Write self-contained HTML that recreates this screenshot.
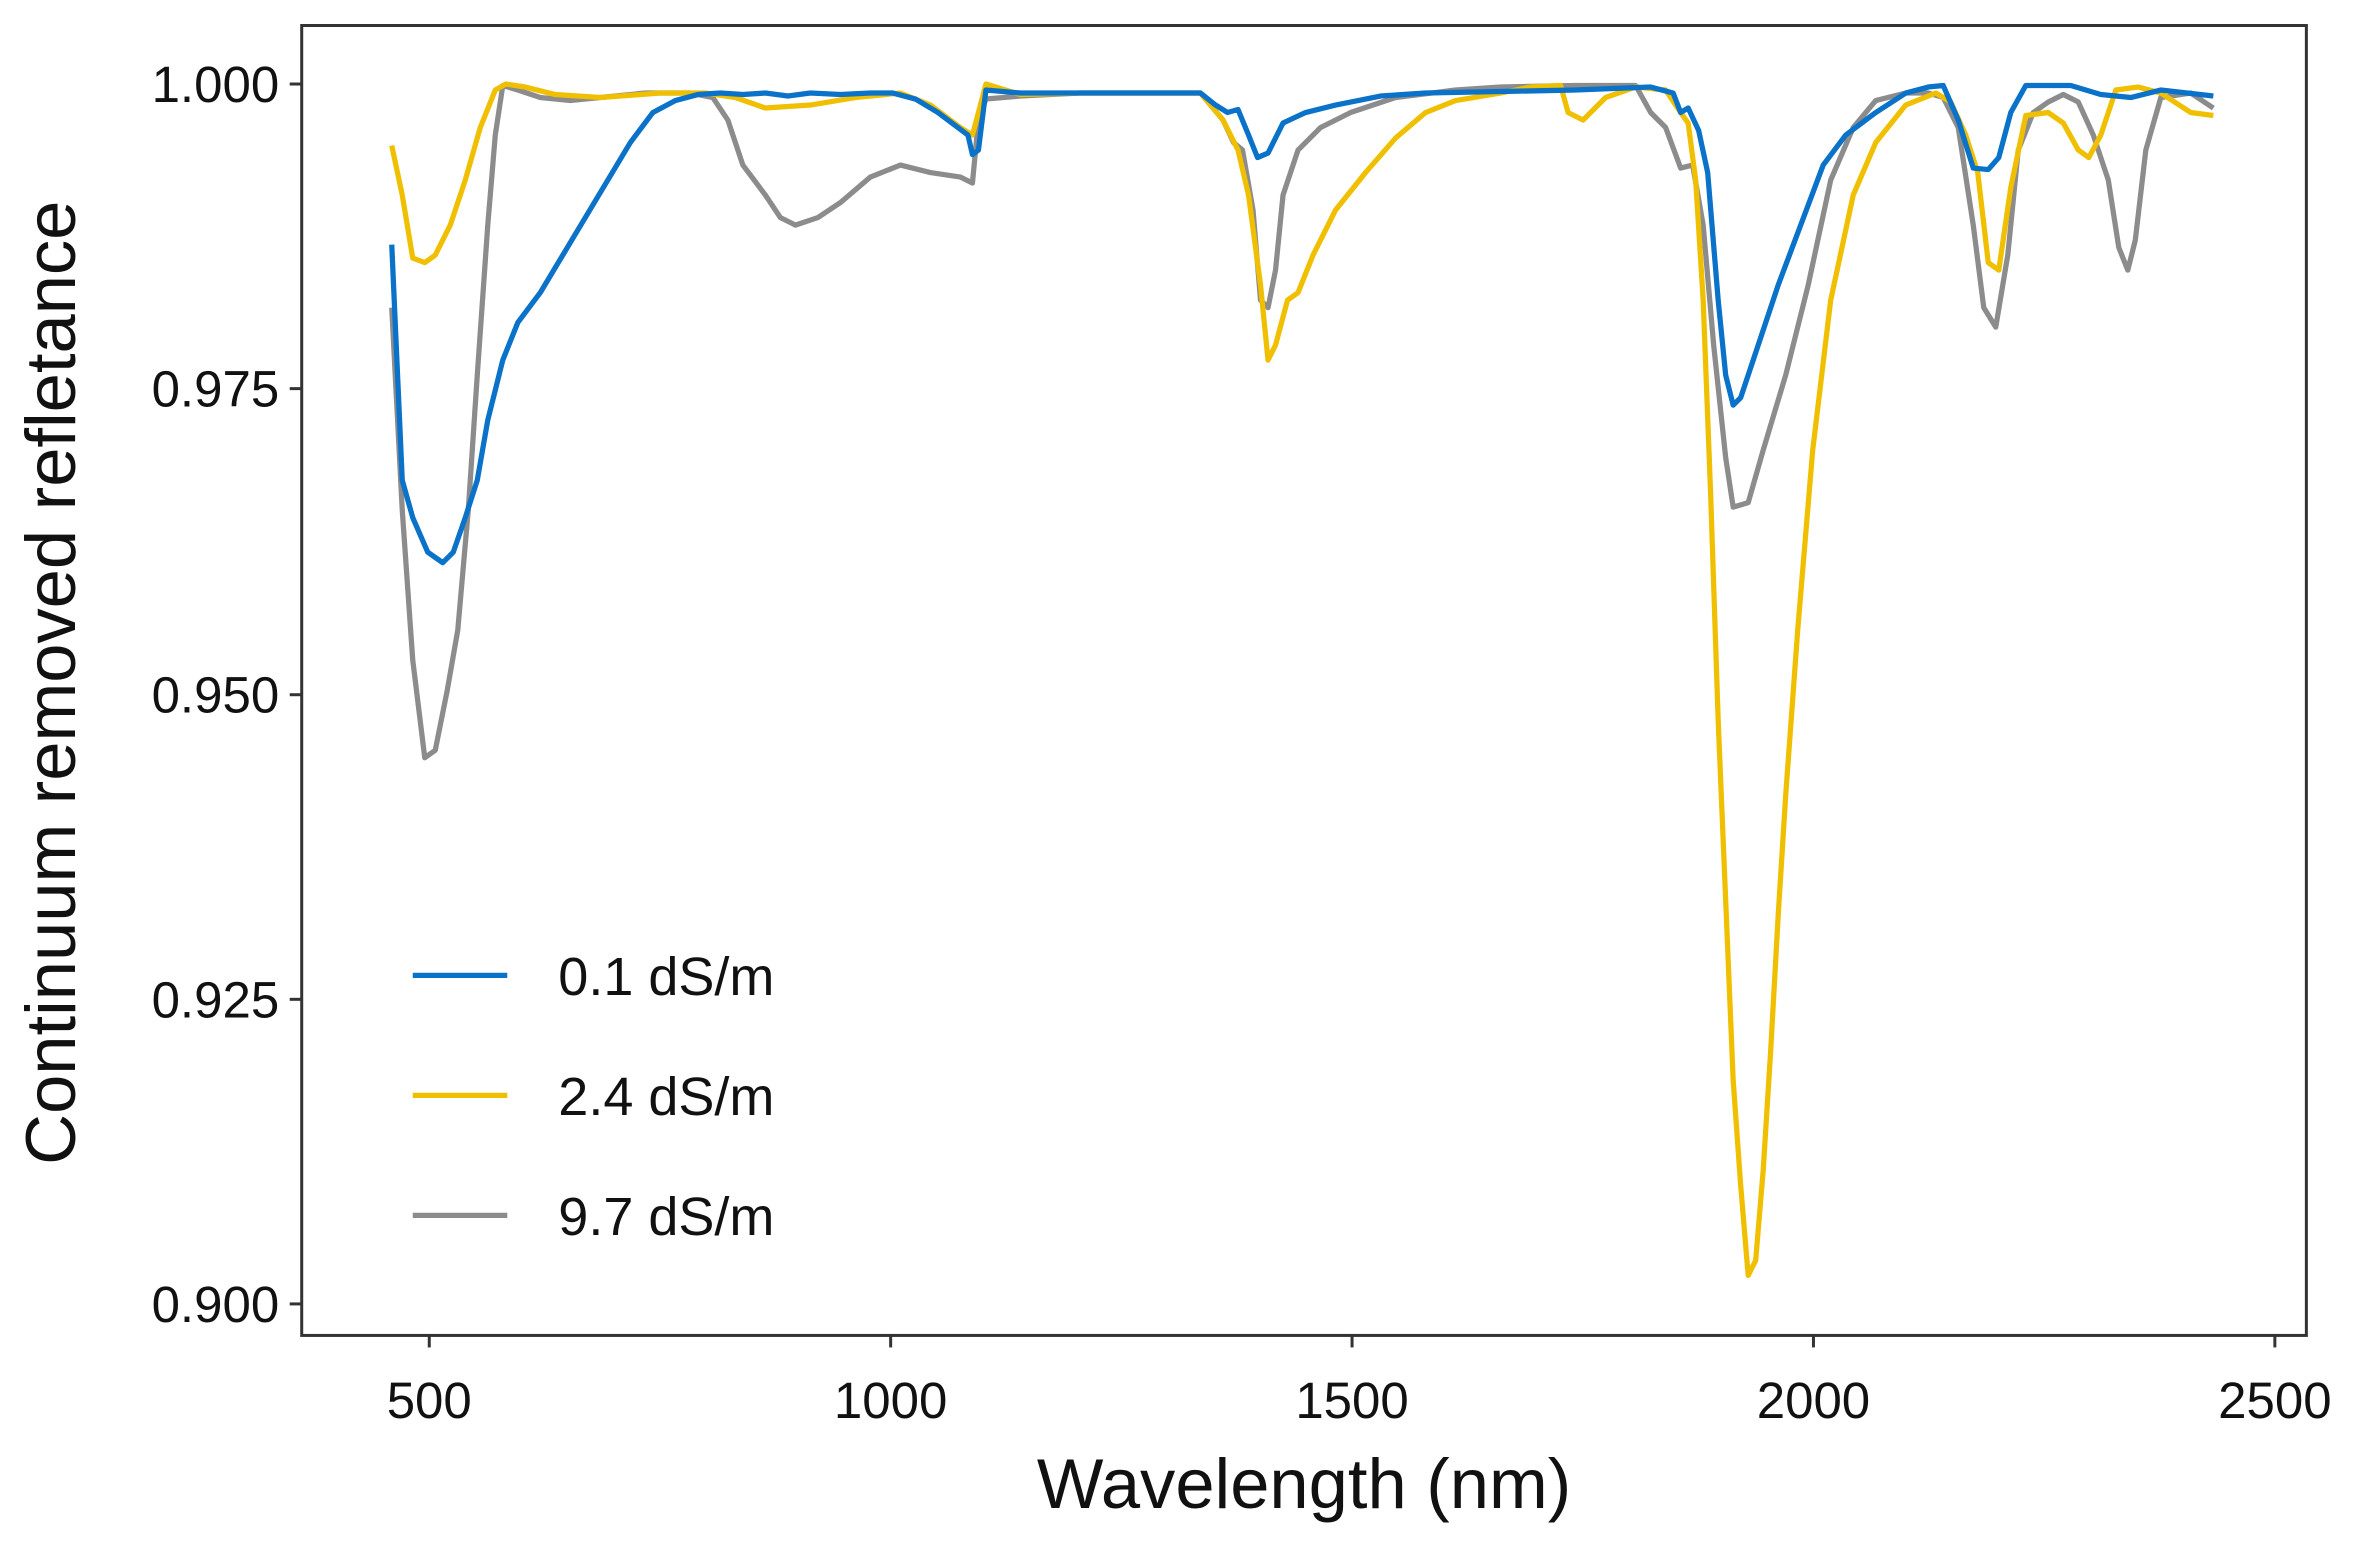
<!DOCTYPE html>
<html><head><meta charset="utf-8"><style>
html,body{margin:0;padding:0;background:#fff;}
svg{display:block;}
text{font-family:"Liberation Sans",sans-serif;fill:#111;}
</style></head><body>
<svg width="2353" height="1541" viewBox="0 0 1568 1027" xmlns="http://www.w3.org/2000/svg">
<rect x="0" y="0" width="1568" height="1027" fill="#fff"/>
<rect x="201" y="17" width="1336" height="873" fill="none" stroke="#333" stroke-width="2"/>
<g stroke="#333" stroke-width="2">
<line x1="193" y1="56" x2="201" y2="56"/><line x1="193" y1="259" x2="201" y2="259"/><line x1="193" y1="463" x2="201" y2="463"/><line x1="193" y1="666" x2="201" y2="666"/><line x1="193" y1="869" x2="201" y2="869"/>
<line x1="286" y1="890" x2="286" y2="898"/><line x1="593.5" y1="890" x2="593.5" y2="898"/><line x1="901" y1="890" x2="901" y2="898"/><line x1="1208.5" y1="890" x2="1208.5" y2="898"/><line x1="1516" y1="890" x2="1516" y2="898"/>
</g>
<g font-size="34" text-anchor="end">
<text x="186" y="68">1.000</text><text x="186" y="271">0.975</text><text x="186" y="475">0.950</text><text x="186" y="678">0.925</text><text x="186" y="881">0.900</text>
</g>
<g font-size="34" text-anchor="middle">
<text x="286" y="945">500</text><text x="593.5" y="945">1000</text><text x="901" y="945">1500</text><text x="1208.5" y="945">2000</text><text x="1516" y="945">2500</text>
</g>
<text x="869" y="1005" font-size="47" text-anchor="middle">Wavelength (nm)</text>
<text transform="translate(50,455) rotate(-90)" font-size="47" text-anchor="middle">Continuum removed refletance</text>
<g fill="none" stroke-width="3.5" stroke-linejoin="round">
<polyline stroke="#8c8c8c" points="261,205 268,340 275,440 283,505 290,500 298,460 305,420 312,340 318,250 325,150 330,90 335,57 345,60 360,65 380,67 400,65 430,62 460,62 475,65 485,80 495,110 510,130 520,145 530,150 545,145 560,135 580,118 600,110 620,115 640,118 648,122 652,80 657,66 680,64 720,62 800,62 815,80 822,95 828,100 835,140 840,200 845,205 850,180 855,130 865,100 880,85 900,75 930,65 970,60 1000,58 1050,57 1090,57 1100,75 1110,85 1120,112 1128,110 1135,150 1142,230 1150,305 1155,338 1165,335 1175,300 1190,250 1205,190 1220,120 1235,85 1250,67 1270,62 1285,62 1295,65 1305,85 1315,150 1322,205 1330,218 1338,170 1345,100 1355,75 1365,68 1375,63 1385,68 1395,90 1405,120 1412,165 1418,180 1423,160 1430,100 1440,65 1460,62 1475,72"/>
<polyline stroke="#f0c000" points="261,97 268,130 275,172 283,175 290,170 300,150 310,120 320,85 330,60 337,56 350,58 370,63 400,65 440,62 470,62 490,65 510,72 540,70 570,65 600,62 620,70 640,85 648,90 652,75 657,56 680,63 720,62 800,62 815,80 825,100 832,130 840,190 845,240 850,230 858,200 865,195 875,170 890,140 910,115 930,92 950,75 970,67 1000,62 1020,58 1040,57 1045,75 1055,80 1070,65 1090,58 1110,60 1120,75 1125,82 1130,120 1135,200 1140,330 1145,480 1150,600 1155,720 1160,790 1165,850 1170,840 1175,780 1180,700 1185,610 1190,530 1198,420 1208,300 1220,200 1235,130 1250,95 1270,70 1290,62 1300,68 1310,90 1318,115 1325,175 1332,180 1340,125 1350,77 1365,75 1375,82 1385,100 1392,105 1400,90 1410,60 1425,58 1440,62 1460,75 1475,77"/>
<polyline stroke="#0a72c8" points="261,163 268,320 275,345 285,368 295,375 302,368 310,345 318,320 325,280 335,240 345,215 360,195 375,170 390,145 405,120 420,95 435,75 450,67 465,63 480,62 495,63 510,62 525,64 540,62 560,63 580,62 595,62 610,66 625,75 645,90 648,103 652,100 657,60 680,62 700,62 760,62 800,62 810,70 818,75 825,73 832,90 838,105 845,102 855,82 870,75 890,70 920,64 950,62 1000,61 1050,60 1100,58 1115,62 1120,75 1125,72 1132,87 1138,115 1145,200 1150,250 1155,270 1160,265 1170,235 1185,190 1200,150 1215,110 1230,90 1250,75 1270,62 1285,58 1295,57 1305,80 1315,112 1325,113 1332,105 1340,75 1350,57 1380,57 1400,63 1420,65 1440,60 1475,64"/>
</g>
<g stroke-width="3.5">
<line x1="275" y1="650" x2="338" y2="650" stroke="#0a72c8"/>
<line x1="275" y1="730" x2="338" y2="730" stroke="#f0c000"/>
<line x1="275" y1="810" x2="338" y2="810" stroke="#8c8c8c"/>
</g>
<g font-size="36">
<text x="372" y="663">0.1 dS/m</text><text x="372" y="743">2.4 dS/m</text><text x="372" y="823">9.7 dS/m</text>
</g>
</svg>
</body></html>
